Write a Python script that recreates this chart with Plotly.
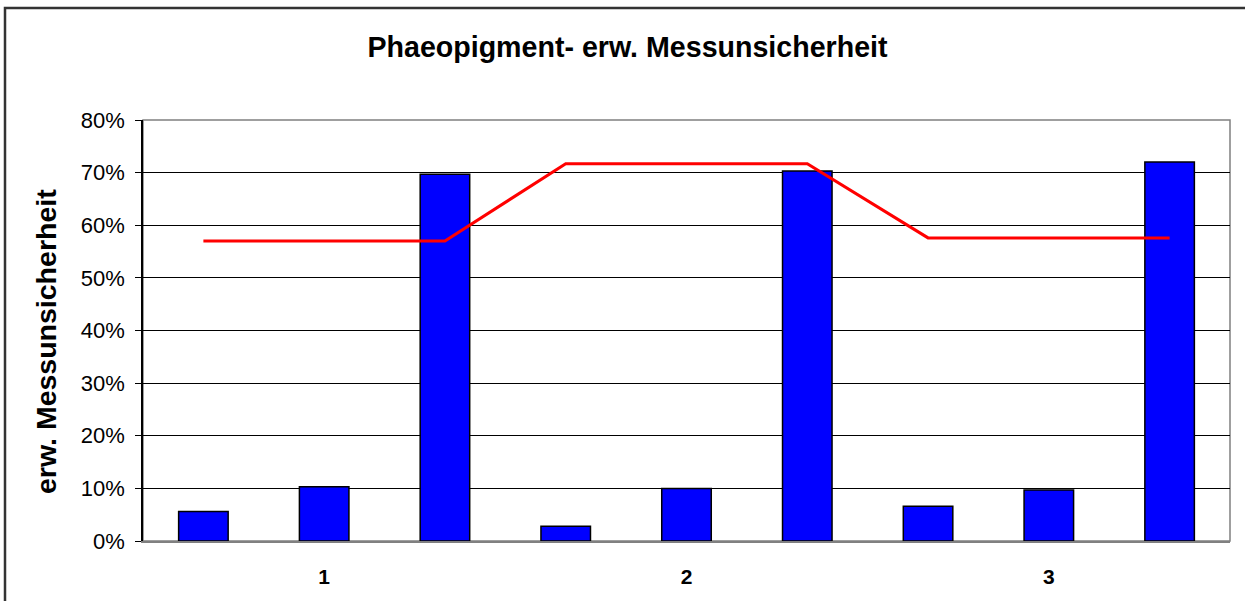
import plotly.graph_objects as go

# Data
bar_values = [5.6, 10.3, 69.7, 2.8, 10.0, 70.3, 6.6, 9.7, 72.0]
line_values = [57.0, 57.0, 57.0, 71.7, 71.7, 71.7, 57.6, 57.6, 57.6]
group_labels = ["1", "2", "3"]
y_ticks = [0, 10, 20, 30, 40, 50, 60, 70, 80]

positions = list(range(len(bar_values)))
group_centers = [1 + 3 * i for i in range(len(group_labels))]

fig = go.Figure()
fig.add_trace(go.Bar(
    x=positions, y=bar_values, width=0.41,
    marker=dict(color="#0000FF", line=dict(color="#000000", width=1.5)),
    showlegend=False, hoverinfo="y"
))
fig.add_trace(go.Scatter(
    x=positions, y=line_values, mode="lines",
    line=dict(color="#FF0000", width=3),
    showlegend=False
))

L, R, T, B = 143, 15, 120, 60
W, H = 1245, 601
pw, ph = W - L - R, H - T - B

def px_x(px):
    return (px - L) / pw

def px_y(py):
    return (H - B - py) / ph

fig.update_layout(
    width=W, height=H,
    margin=dict(l=L, r=R, t=T, b=B),
    paper_bgcolor="white", plot_bgcolor="white",
    font=dict(family="Liberation Sans, Arial, sans-serif", color="#000000"),
    title=dict(text="<b>Phaeopigment- erw. Messunsicherheit</b>",
               x=627.5 / W, xanchor="center", y=1 - 47 / H, yanchor="middle",
               font=dict(size=28.6, color="#000000")),
    xaxis=dict(range=[-0.5, 8.5], tickmode="array", tickvals=group_centers,
               ticktext=["<b>%s</b>" % g for g in group_labels],
               tickfont=dict(size=21), showgrid=False, zeroline=False,
               showline=True, linecolor="#808080", linewidth=1.5, ticks="",
               ticklabelstandoff=16),
    yaxis=dict(range=[0, 80], tickmode="array", tickvals=y_ticks,
               ticktext=["%d%%" % v for v in y_ticks],
               tickfont=dict(size=22), showgrid=True, gridcolor="#000000", gridwidth=1,
               zeroline=False, showline=True, linecolor="#000000", linewidth=1.5,
               ticks="outside", ticklen=6, tickcolor="#000000",
               ticklabelstandoff=6),
    bargap=0.5,
    annotations=[
        dict(text="<b>erw. Messunsicherheit</b>", textangle=-90,
             xref="paper", yref="paper", x=px_x(46), y=px_y(342),
             xanchor="center", yanchor="middle", showarrow=False,
             font=dict(size=28.5, color="#000000")),
    ],
    shapes=[
        dict(type="rect", xref="paper", yref="paper", x0=0, x1=1, y0=0, y1=1,
             line=dict(color="#808080", width=1.5), layer="below"),
        dict(type="rect", xref="paper", yref="paper",
             x0=px_x(5), x1=px_x(1260), y0=px_y(615), y1=px_y(8),
             line=dict(color="#333333", width=2.5), layer="below"),
    ],
)

fig.write_html("out.html", config={"displayModeBar": False})

# remove default page margin so the figure sits at the window origin
with open("out.html", "r", encoding="utf-8") as f:
    html = f.read()
html = html.replace("<head>", "<head><style>html,body{margin:0;padding:0;overflow:hidden}</style>", 1)
with open("out.html", "w", encoding="utf-8") as f:
    f.write(html)
